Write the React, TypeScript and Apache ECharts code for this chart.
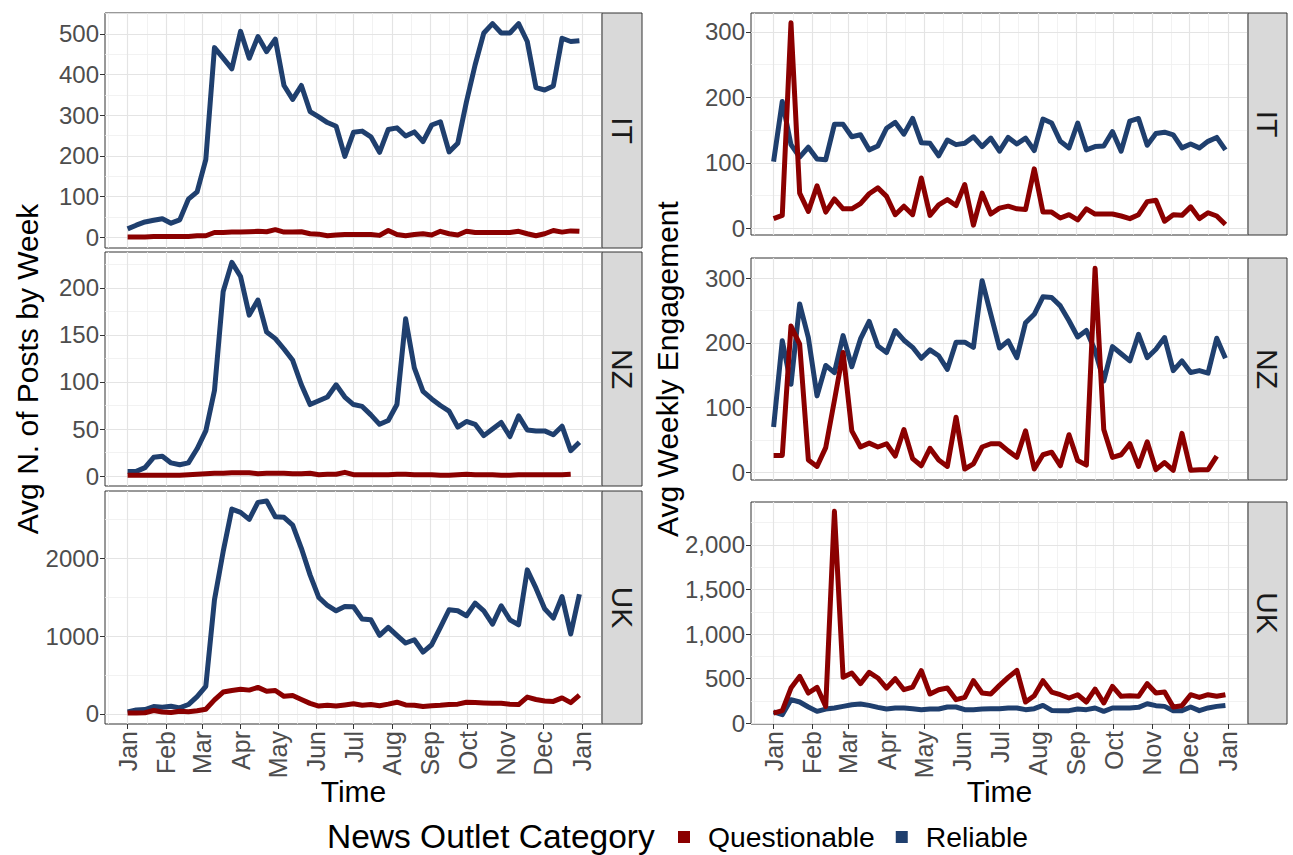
import React, { useEffect, useRef } from "react";
import * as echarts from "echarts";

const FONT = "'Liberation Sans', Arial, Helvetica, sans-serif";
const RED = "#8B0000";
const BLUE = "#1F3F6E";
const MAJOR_GRID = "#E4E4E4";
const MINOR_GRID = "#EFEFEF";
const MONTHS = ["Jan", "Feb", "Mar", "Apr", "May", "Jun", "Jul", "Aug", "Sep", "Oct", "Nov", "Dec"];
const FACETS = ["IT", "NZ", "UK"];
const CATEGORIES = ["Questionable", "Reliable"];

// weekly observations, first week of 2020 through the last week of 2020
const WEEKS = Array.from({ length: 53 }, (_, i) => new Date(2020, 0, 1 + 7 * i).getTime());

// ---- Avg N. of Posts by Week ----
const postsITQuestionable = [1, 1, 1, 2, 2, 2, 2, 2, 4, 4, 12, 12, 13, 13, 14, 15, 14, 19, 13, 13, 14, 9, 8, 4, 6, 7, 7, 7, 7, 5, 17, 7, 4, 7, 9, 6, 15, 9, 6, 15, 12, 12, 12, 12, 12, 15, 9, 4, 9, 17, 13, 16, 15];
const postsITReliable = [21, 30, 38, 42, 46, 35, 43, 94, 112, 191, 466, 440, 414, 506, 440, 493, 456, 487, 373, 339, 373, 309, 296, 282, 273, 199, 258, 261, 247, 209, 265, 269, 249, 259, 235, 276, 284, 210, 231, 333, 424, 502, 525, 502, 502, 525, 481, 368, 362, 372, 489, 481, 483];
const postsNZQuestionable = [1, 1, 1, 1, 1, 1, 1, 1.5, 2, 2.5, 3, 3, 3.5, 3.5, 3.5, 2.5, 3, 3, 3, 2.5, 2.5, 3, 1.5, 2, 2, 4, 1.5, 1.5, 1.5, 1.5, 1.5, 2, 2, 1.5, 1.5, 1.5, 1, 1, 1.5, 2, 1.5, 1.5, 1.5, 1, 1, 1.5, 1.5, 1.5, 1.5, 1.5, 1.5, 2];
const postsNZReliable = [5, 5, 9, 20, 21, 14, 12, 14, 29, 48, 91, 196, 227, 212, 171, 187, 153, 146, 135, 123, 97, 76, 80, 84, 97, 84, 76, 74, 65, 55, 59, 76, 167, 115, 90, 82, 75, 69, 52, 58, 55, 43, 50, 57, 42, 64, 49, 48, 48, 44, 53, 27, 36];
const postsUKQuestionable = [10, 12, 15, 43, 25, 17, 34, 26, 40, 60, 180, 280, 300, 315, 305, 340, 290, 300, 225, 235, 185, 135, 100, 110, 100, 115, 130, 110, 120, 105, 125, 150, 115, 110, 95, 105, 110, 120, 125, 150, 145, 140, 135, 135, 125, 120, 215, 185, 165, 160, 205, 145, 240];
const postsUKReliable = [26, 51, 56, 94, 85, 98, 77, 120, 222, 354, 1465, 2084, 2630, 2588, 2498, 2716, 2733, 2532, 2524, 2425, 2126, 1785, 1495, 1392, 1324, 1379, 1375, 1217, 1208, 1008, 1110, 1008, 910, 952, 794, 888, 1110, 1337, 1324, 1260, 1422, 1324, 1153, 1388, 1208, 1144, 1849, 1614, 1349, 1230, 1507, 1025, 1537];

// ---- Avg Weekly Engagement ----
const engITQuestionable = [15, 20, 314, 54, 26, 65, 25, 45, 30, 30, 38, 53, 62, 49, 21, 34, 21, 77, 20, 36, 44, 35, 67, 5, 54, 22, 31, 34, 30, 29, 91, 25, 25, 16, 21, 13, 30, 22, 22, 22, 19, 15, 21, 41, 43, 11, 21, 20, 33, 15, 24, 19, 6];
const engITReliable = [102, 194, 128, 109, 124, 106, 105, 159, 159, 140, 143, 120, 126, 153, 162, 144, 168, 131, 130, 111, 135, 128, 130, 140, 125, 138, 118, 139, 129, 138, 119, 167, 161, 133, 123, 161, 120, 125, 126, 148, 118, 164, 168, 127, 145, 147, 143, 123, 129, 123, 133, 139, 120];
const engNZQuestionable = [26, 26, 226, 198, 19, 9, 38, 111, 185, 64, 39, 45, 39, 44, 25, 66, 21, 10, 37, 19, 9, 85, 5, 13, 39, 44, 44, 33, 23, 64, 5, 27, 31, 10, 58, 18, 11, 315, 66, 23, 27, 44, 9, 47, 4, 15, 3, 60, 3, 4, 4, 25];
const engNZReliable = [70, 203, 136, 260, 208, 118, 165, 154, 211, 163, 206, 233, 195, 185, 219, 204, 193, 176, 189, 180, 159, 201, 201, 193, 296, 244, 192, 203, 177, 231, 244, 271, 270, 257, 234, 209, 219, 188, 141, 194, 183, 172, 213, 177, 190, 208, 157, 172, 154, 157, 153, 207, 176];
const engUKQuestionable = [112, 139, 393, 524, 337, 401, 187, 2378, 513, 562, 442, 569, 506, 393, 498, 374, 404, 588, 326, 374, 393, 262, 288, 476, 337, 326, 423, 513, 592, 236, 307, 476, 348, 318, 281, 318, 236, 382, 225, 412, 300, 307, 300, 442, 337, 348, 180, 195, 318, 288, 318, 300, 318];
const engUKReliable = [124, 94, 262, 236, 180, 131, 157, 169, 187, 206, 213, 198, 176, 157, 169, 169, 161, 150, 157, 157, 180, 180, 150, 150, 157, 161, 161, 169, 169, 150, 161, 198, 142, 139, 139, 157, 150, 169, 131, 169, 169, 169, 176, 217, 195, 187, 139, 139, 180, 139, 169, 187, 198];

// ---- tick labels (y) ----
const postsITTicks = [0, 100, 200, 300, 400, 500];
const postsNZTicks = [0, 50, 100, 150, 200];
const postsUKTicks = [0, 1000, 2000];
const engITTicks = [0, 100, 200, 300];
const engNZTicks = [0, 100, 200, 300];
const engUKTicks = [0, 500, 1000, 1500, 2000];

// y ranges (ggplot-style expanded limits)
const postsITRange = [-26, 551];
const postsNZRange = [-10.5, 238];
const postsUKRange = [-130, 2862];
const engITRange = [-10, 329];
const engNZRange = [-12, 331];
const engUKRange = [-11, 2483];

const DAY = 864e5;
const X_MIN = new Date(2020, 0, 1).getTime() - 18.2 * DAY;
const X_MAX = new Date(2020, 11, 30).getTime() + 18.2 * DAY;
const MONTH_TICKS = Array.from({ length: 13 }, (_, m) => new Date(2020, m, 1).getTime());
const MONTH_EDGES = Array.from({ length: 15 }, (_, m) => new Date(2019, 11 + m, 1).getTime());
const MONTH_MINOR = MONTH_EDGES.slice(1)
  .map((t, i) => (MONTH_EDGES[i] + t) / 2)
  .filter((t) => t > X_MIN && t < X_MAX);

function minorOf(ticks: number[], range: number[]) {
  const step = ticks[1] - ticks[0];
  const out: number[] = [];
  for (let v = ticks[0] - step / 2; v <= range[1]; v += step) {
    if (v > range[0] && v < range[1]) out.push(v);
  }
  return out;
}

const LEFT_X = 105;
const RIGHT_X = 751;
const PANEL_W = 497;
const LEFT_TOPS = [13, 252, 491];
const LEFT_HS = [235, 234, 233];
const RIGHT_TOPS = [13, 258, 502];
const RIGHT_HS = [222, 222, 222];

type Panel = {
  left: number; top: number; height: number; facet: string;
  q: number[]; r: number[]; ticks: number[]; range: number[]; bottom: boolean; comma: boolean;
};

const PANELS: Panel[] = [
  { left: LEFT_X, top: LEFT_TOPS[0], height: LEFT_HS[0], facet: FACETS[0], q: postsITQuestionable, r: postsITReliable, ticks: postsITTicks, range: postsITRange, bottom: false, comma: false },
  { left: LEFT_X, top: LEFT_TOPS[1], height: LEFT_HS[1], facet: FACETS[1], q: postsNZQuestionable, r: postsNZReliable, ticks: postsNZTicks, range: postsNZRange, bottom: false, comma: false },
  { left: LEFT_X, top: LEFT_TOPS[2], height: LEFT_HS[2], facet: FACETS[2], q: postsUKQuestionable, r: postsUKReliable, ticks: postsUKTicks, range: postsUKRange, bottom: true, comma: false },
  { left: RIGHT_X, top: RIGHT_TOPS[0], height: RIGHT_HS[0], facet: FACETS[0], q: engITQuestionable, r: engITReliable, ticks: engITTicks, range: engITRange, bottom: false, comma: true },
  { left: RIGHT_X, top: RIGHT_TOPS[1], height: RIGHT_HS[1], facet: FACETS[1], q: engNZQuestionable, r: engNZReliable, ticks: engNZTicks, range: engNZRange, bottom: false, comma: true },
  { left: RIGHT_X, top: RIGHT_TOPS[2], height: RIGHT_HS[2], facet: FACETS[2], q: engUKQuestionable, r: engUKReliable, ticks: engUKTicks, range: engUKRange, bottom: true, comma: true },
];

function buildOption() {
  const grid: any[] = [];
  const xAxis: any[] = [];
  const yAxis: any[] = [];
  const series: any[] = [];
  const graphic: any[] = [];

  PANELS.forEach((p, i) => {
    grid.push({
      left: p.left, top: p.top, width: PANEL_W, height: p.height,
      show: true, borderColor: "#333333", borderWidth: 1, backgroundColor: "transparent",
      containLabel: false, outerBoundsMode: "none",
    });
    // dates are kept as epoch milliseconds on a numeric axis; month ticks are placed at month starts
    xAxis.push({
      type: "value", gridIndex: i, min: X_MIN, max: X_MAX, scale: true,
      axisLine: { show: false, onZero: false },
      splitLine: { show: false },
      axisTick: { show: p.bottom, customValues: MONTH_TICKS, length: 5, lineStyle: { color: "#333333", width: 1 } },
      axisLabel: {
        show: p.bottom, customValues: MONTH_TICKS, rotate: 90, margin: 7,
        fontSize: 25, fontFamily: FONT, color: "#4D4D4D", hideOverlap: false,
        formatter: (v: number) => MONTHS[new Date(v).getMonth()],
      },
    });
    yAxis.push({
      type: "value", gridIndex: i, min: p.range[0], max: p.range[1],
      axisLine: { show: false, onZero: false },
      splitLine: { show: false },
      axisTick: { show: true, customValues: p.ticks, length: 5, lineStyle: { color: "#333333", width: 1 } },
      axisLabel: {
        customValues: p.ticks, margin: 6, fontSize: 24, fontFamily: FONT, color: "#4D4D4D",
        hideOverlap: false,
        formatter: (v: number) => (p.comma ? Number(v).toLocaleString("en-US") : String(v)),
      },
    });

    const gridLines: any[] = [];
    MONTH_MINOR.forEach((t) => gridLines.push({ xAxis: t, lineStyle: { color: MINOR_GRID, width: 0.8, type: "solid" } }));
    minorOf(p.ticks, p.range).forEach((v) => gridLines.push({ yAxis: v, lineStyle: { color: MINOR_GRID, width: 0.8, type: "solid" } }));
    MONTH_TICKS.forEach((t) => gridLines.push({ xAxis: t, lineStyle: { color: MAJOR_GRID, width: 1.2, type: "solid" } }));
    p.ticks.forEach((v) => gridLines.push({ yAxis: v, lineStyle: { color: MAJOR_GRID, width: 1.2, type: "solid" } }));

    series.push({
      name: CATEGORIES[1], type: "line", xAxisIndex: i, yAxisIndex: i,
      data: p.r.map((v, k) => [WEEKS[k], v]),
      showSymbol: false, symbol: "none", z: 2,
      lineStyle: { color: BLUE, width: 5, join: "round" }, itemStyle: { color: BLUE },
      markLine: {
        silent: true, symbol: ["none", "none"], z: 1, animation: false,
        label: { show: false }, emphasis: { disabled: true },
        data: gridLines,
      },
    });
    series.push({
      name: CATEGORIES[0], type: "line", xAxisIndex: i, yAxisIndex: i,
      data: p.q.map((v, k) => [WEEKS[k], v]),
      showSymbol: false, symbol: "none", z: 3,
      lineStyle: { color: RED, width: 5, join: "round" }, itemStyle: { color: RED },
    });

    // facet strip
    const sx = p.left + PANEL_W;
    const sw = i < 3 ? 40 : 39;
    graphic.push({
      type: "rect", shape: { x: sx, y: p.top, width: sw, height: p.height },
      style: { fill: "#D9D9D9", stroke: "#333333", lineWidth: 1 }, z: 10,
    });
    graphic.push({
      type: "text", x: sx + sw / 2, y: p.top + p.height / 2, rotation: -Math.PI / 2, z: 11,
      style: {
        text: p.facet, fontSize: 30, fontFamily: FONT, fill: "#1A1A1A",
        align: "center", verticalAlign: "middle", textAlign: "center", textVerticalAlign: "middle",
      },
    });
  });

  const titleStyle = (text: string, size: number) => ({
    text, fontSize: size, fontFamily: FONT, fill: "#000000",
    align: "center", verticalAlign: "middle", textAlign: "center", textVerticalAlign: "middle",
  });

  graphic.push({ type: "text", x: 27, y: 369, rotation: Math.PI / 2, style: titleStyle("Avg N. of Posts by Week", 30) });
  graphic.push({ type: "text", x: 667, y: 369, rotation: Math.PI / 2, style: titleStyle("Avg Weekly Engagement", 30) });
  graphic.push({ type: "text", x: LEFT_X + PANEL_W / 2, y: 791, style: titleStyle("Time", 30) });
  graphic.push({ type: "text", x: RIGHT_X + PANEL_W / 2, y: 791, style: titleStyle("Time", 30) });
  graphic.push({
    type: "text", x: 327, y: 836,
    style: { text: "News Outlet Category", fontSize: 33.5, fontFamily: FONT, fill: "#000000", align: "left", verticalAlign: "middle", textAlign: "left", textVerticalAlign: "middle" },
  });

  return {
    animation: false,
    backgroundColor: "#ffffff",
    grid, xAxis, yAxis, series, graphic,
    legend: {
      data: CATEGORIES, left: 673, top: 818, orient: "horizontal",
      icon: "rect", itemWidth: 12, itemHeight: 12, itemGap: 21, selectedMode: false,
      textStyle: { fontSize: 28.3, fontFamily: FONT, color: "#000000", padding: [0, 0, 0, 13] },
    },
  };
}

export default function App() {
  const ref = useRef<HTMLDivElement>(null);
  useEffect(() => {
    if (!ref.current) return;
    const chart = echarts.init(ref.current, undefined, { renderer: "svg" });
    chart.setOption(buildOption() as any);
    return () => chart.dispose();
  }, []);
  return <div ref={ref} style={{ position: "absolute", left: 0, top: 0, width: 1293, height: 855 }} />;
}
